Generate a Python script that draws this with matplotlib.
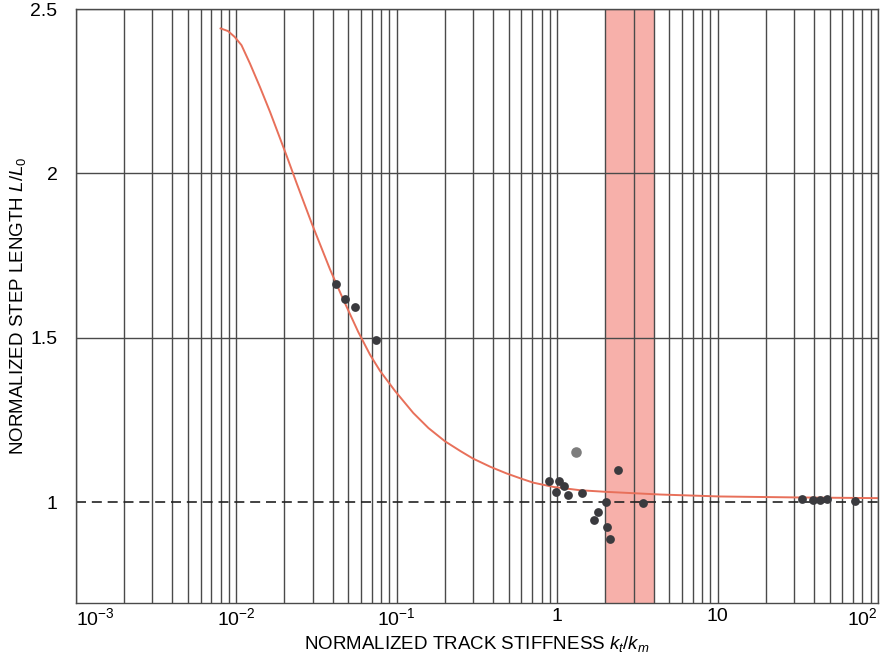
import numpy as np
import matplotlib
matplotlib.use("Agg")
import matplotlib.pyplot as plt
from matplotlib import ticker

plt.rcParams['font.family'] = ['Liberation Sans', 'DejaVu Sans']
plt.rcParams['mathtext.fontset'] = 'custom'
plt.rcParams['mathtext.rm'] = 'Liberation Sans'
plt.rcParams['mathtext.it'] = 'Liberation Sans:italic'

# model curve
curve_k = [0.008, 0.0089, 0.0098, 0.0108, 0.0122, 0.0141, 0.0163, 0.0188, 0.0207,
           0.0238, 0.0296, 0.0385, 0.0465, 0.0577, 0.0683, 0.0788, 0.0977, 0.127,
           0.158, 0.200, 0.250, 0.300, 0.385, 0.485, 0.60, 0.711, 0.95, 1.39,
           2.04, 4.38, 10.4, 32.7, 100]
curve_L = [2.441, 2.433, 2.415, 2.390, 2.334, 2.262, 2.186, 2.106, 2.052,
           1.971, 1.848, 1.708, 1.617, 1.518, 1.449, 1.400, 1.339, 1.272,
           1.226, 1.186, 1.156, 1.133, 1.108, 1.088, 1.072, 1.060, 1.047, 1.037,
           1.032, 1.024, 1.018, 1.015, 1.013]

# measured points
pts_k = [0.0417, 0.0477, 0.055, 0.0744, 0.894, 1.033, 1.104, 0.980, 1.165, 1.436,
         2.407, 2.018, 3.418, 1.807, 1.706, 2.056, 2.147,
         33.5, 39.5, 43.5, 47.9, 71.9]
pts_L = [1.663, 1.617, 1.595, 1.495, 1.065, 1.066, 1.050, 1.032, 1.021, 1.028,
         1.100, 1.002, 0.999, 0.971, 0.948, 0.926, 0.889,
         1.010, 1.007, 1.007, 1.009, 1.005]

# lighter outlier point
odd_k = [1.306]
odd_L = [1.154]

band = (2, 4)

xticks = [1e-3, 1e-2, 1e-1, 1, 10, 100]
xlabels = [r'$10^{-3}$', r'$10^{-2}$', r'$10^{-1}$', '1', '10', r'$10^{2}$']
yticks = [1, 1.5, 2, 2.5]
ylabels = ['1', '1.5', '2', '2.5']

fig = plt.figure(figsize=(8.8, 6.58), dpi=100)
ax = fig.add_axes([0.086, 0.083, 0.9117, 0.9033])

ax.set_xscale('log')
ax.set_xlim(1e-3, 100)
ax.set_ylim(0.693, 2.5)

ax.axvspan(band[0], band[1], color='#f7b0aa', zorder=0.2, lw=0)

ax.set_axisbelow(True)
ax.xaxis.set_minor_locator(ticker.LogLocator(base=10, subs=np.arange(2, 10), numticks=100))
ax.xaxis.set_minor_formatter(ticker.NullFormatter())
ax.set_xticks(xticks)
ax.set_xticklabels(xlabels)
ax.set_yticks(yticks)
ax.set_yticklabels(ylabels)
ax.grid(True, which='both', axis='x', color='#4a4a4a', lw=1.0)
ax.grid(True, which='major', axis='y', color='#4a4a4a', lw=1.0)
ax.yaxis.get_gridlines()[0].set_visible(False)

ax.axhline(1, color='#222222', lw=1.2, dashes=(6, 3.5), zorder=1)

ax.plot(curve_k, curve_L, color='#e8705a', lw=1.4, zorder=2)
ax.scatter(pts_k, pts_L, s=40, color='#3a3a3e', zorder=3, lw=0)
ax.scatter(odd_k, odd_L, s=58, color='#7d7d7d', zorder=3, lw=0)

ax.tick_params(axis='both', which='both', length=0, labelsize=14)
ax.tick_params(axis='y', pad=13)
ax.tick_params(axis='x', pad=3)
tl = ax.get_xticklabels()
tl[0].set_horizontalalignment('left')
tl[-1].set_horizontalalignment('right')

for s in ax.spines.values():
    s.set_color('#4a4a4a')
    s.set_linewidth(1.0)

ax.set_xlabel(r'NORMALIZED TRACK STIFFNESS $k_t/k_m$', fontsize=13.5, labelpad=3)
ax.set_ylabel(r'NORMALIZED STEP LENGTH $L/L_0$', fontsize=13.5, labelpad=2)

fig.savefig('out.png', dpi=100)
